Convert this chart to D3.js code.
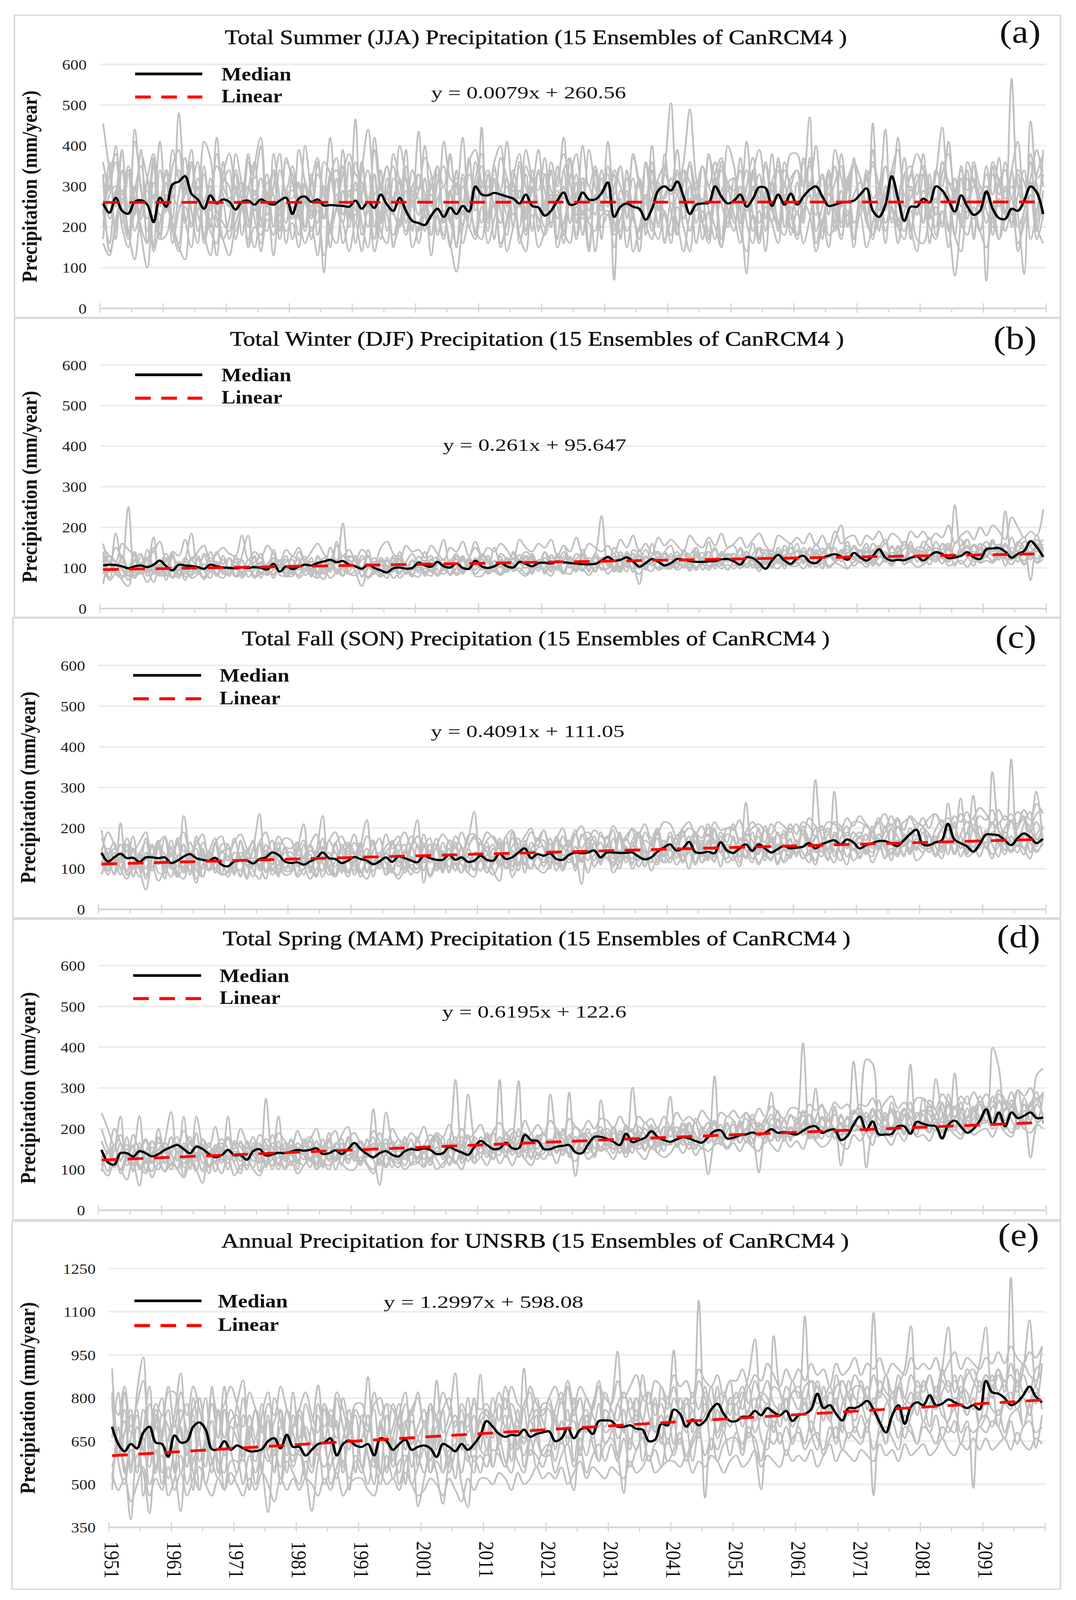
<!DOCTYPE html>
<html><head><meta charset="utf-8">
<script src="https://cdn.jsdelivr.net/npm/d3@7"></script>
<style>html,body{margin:0;padding:0;background:#fff;overflow:hidden}svg{display:block}</style>
</head><body>
<svg id="chart"></svg>
<script>
// ---------------- DATA ----------------
const years = d3.range(1951, 2101);
const xTickLabels = ["1951","1961","1971","1981","1991","2001","2011","2021","2031","2041","2051","2061","2071","2081","2091"];
const yTicksSeasonal = [0,100,200,300,400,500,600];
const yTicksAnnual = [350,500,650,800,950,1100,1250];
const panelTitles = [
 "Total Summer (JJA) Precipitation (15 Ensembles of CanRCM4 )",
 "Total Winter (DJF) Precipitation (15 Ensembles of CanRCM4 )",
 "Total Fall (SON) Precipitation (15 Ensembles of CanRCM4 )",
 "Total Spring (MAM) Precipitation (15 Ensembles of CanRCM4 )",
 "Annual Precipitation for UNSRB (15 Ensembles of CanRCM4 )"];
const panelLetters = ["(a)","(b)","(c)","(d)","(e)"];
const trendSlope = [0.0079,0.261,0.4091,0.6195,1.2997];
const trendIntercept = [260.56,95.647,111.05,122.6,598.08];
const equationLabels = ["y = 0.0079x + 260.56","y = 0.261x + 95.647","y = 0.4091x + 111.05","y = 0.6195x + 122.6","y = 1.2997x + 598.08"];
const legendLabels = ["Median","Linear"];
const yAxisTitle = "Precipitation (mm/year)";

const medianA = [258,235,272,240,233,262,266,255,212,272,250,305,312,325,282,268,245,278,258,268,262,243,262,265,255,268,260,255,265,272,232,270,275,262,268,253,254,253,252,250,265,245,262,247,280,255,240,272,240,215,210,205,228,245,225,248,232,252,238,300,280,278,284,280,275,270,258,280,252,248,228,240,265,285,255,258,285,268,268,283,310,225,250,258,250,245,218,245,290,300,290,312,275,232,255,258,260,300,275,258,265,280,250,270,298,296,252,280,255,282,255,275,292,300,275,252,255,260,262,265,280,295,240,225,255,325,270,215,250,250,270,260,300,290,265,238,278,250,230,240,288,245,222,220,245,240,265,300,285,232];
const medianB = [106,108,107,104,99,104,106,102,108,118,104,94,108,106,105,102,98,108,104,101,100,99,101,100,102,100,96,110,91,104,97,103,108,106,112,116,120,114,117,108,104,98,108,100,94,89,99,101,98,100,113,106,103,115,104,101,111,100,98,118,104,100,104,112,104,101,115,110,104,112,113,111,116,114,112,111,109,109,110,118,127,118,120,126,116,103,112,122,115,106,112,122,120,117,115,115,116,117,121,122,116,108,126,124,112,98,118,132,118,110,124,130,115,112,125,130,134,128,120,137,126,118,130,146,125,118,120,119,125,128,118,130,139,134,124,126,130,139,126,122,146,148,149,140,125,135,142,166,151,127];
const medianC = [139,118,128,137,126,127,117,128,128,126,128,114,120,130,136,126,122,120,127,110,106,118,120,120,113,124,128,140,134,118,114,116,110,118,126,140,126,124,114,120,129,124,120,111,118,128,117,130,126,120,116,132,126,122,122,134,122,128,117,120,132,122,120,137,124,128,140,150,126,136,132,138,124,122,134,140,138,140,145,128,140,140,139,139,140,130,123,128,142,152,160,145,150,166,141,139,142,138,165,145,139,150,160,144,160,150,140,148,156,150,152,154,163,150,160,166,170,160,172,165,150,158,163,168,168,162,156,170,185,196,160,158,165,170,211,172,163,155,142,160,184,184,182,170,158,175,187,178,163,174];
const medianD = [148,118,112,140,140,132,145,140,132,138,148,155,160,150,140,156,150,138,130,135,148,135,135,124,145,150,134,137,141,140,144,148,146,148,152,138,140,147,138,150,165,150,138,130,140,145,136,132,145,150,148,152,148,138,140,155,148,142,136,155,170,160,150,152,166,152,152,185,172,170,150,150,156,158,160,142,140,162,180,180,175,168,160,188,167,172,178,194,180,172,168,174,179,176,170,166,180,194,196,176,178,184,186,191,186,190,199,190,192,188,186,195,204,206,190,196,198,172,182,210,230,196,218,186,186,187,206,206,188,217,212,208,206,176,210,220,205,190,200,220,248,210,240,206,240,226,232,240,226,228];
const medianE = [700,640,615,640,625,680,700,645,640,595,670,645,650,700,715,690,622,622,650,620,635,625,615,615,622,650,660,625,672,630,630,600,620,640,645,660,600,640,652,635,630,640,600,660,650,620,640,655,620,630,635,625,595,640,630,615,640,620,640,670,720,700,675,665,672,670,690,665,675,680,684,650,660,695,660,690,695,675,720,722,720,700,700,705,693,690,650,655,710,705,760,745,700,725,705,720,760,780,745,720,720,735,735,755,740,765,750,740,755,720,740,745,760,815,765,775,745,722,765,765,775,790,760,715,680,740,775,710,770,785,775,810,775,780,795,785,775,765,775,760,860,820,815,800,775,785,810,840,805,785];

const ensembleA = [
[455,340,250,380,230,410,300,190,360,270,330,220,480,310,390,240,350,200,420,280,250,380,300,200,350,420,260,330,190,370,310,240,400,280,210,360,330,250,390,220,360,270,200,420,300,240,380,310,230,340,290,400,250,330,210,370,280,420,260,320,380,230,340,290,410,260,200,350,310,390,240,360,300,420,270,330,230,390,300,250,410,280,350,220,380,300,260,400,240,330,300,390,250,360,280,210,370,320,260,400,350,240,410,290,330,220,380,270,340,300,230,370,300,400,260,340,210,380,290,350,320,260,390,240,350,300,420,250,330,280,380,220,340,300,410,270,230,360,310,260,330,280,370,230,565,300,250,380,320,340],
[240,160,290,200,150,260,180,100,230,170,280,190,140,250,210,300,160,220,130,260,170,240,290,150,200,180,260,130,230,190,210,150,270,190,240,130,200,280,160,230,465,180,240,140,220,270,160,210,290,150,200,260,130,230,180,290,150,240,200,170,250,160,220,280,140,200,260,180,230,150,190,270,150,210,260,170,240,140,280,200,230,150,260,190,220,140,280,210,170,240,160,250,200,140,270,210,180,260,150,230,270,190,140,230,180,250,210,160,280,200,180,240,280,160,220,150,260,200,240,170,230,150,210,270,190,240,160,280,200,140,260,200,170,240,150,280,210,180,250,190,150,230,270,190,240,160,210,280,170,230],
[200,330,380,240,170,440,290,220,350,180,310,190,280,370,240,160,330,260,200,360,250,330,180,290,360,220,190,380,270,210,330,220,300,170,260,88,320,370,230,290,210,340,440,260,170,320,240,200,350,260,435,230,180,310,350,220,160,300,250,360,280,190,350,240,180,320,380,220,300,200,260,330,250,180,370,210,310,240,340,170,350,260,190,320,240,170,360,290,210,380,240,180,310,350,210,270,170,330,370,240,190,300,240,340,170,280,210,370,260,220,310,210,370,260,190,340,240,170,300,360,230,320,180,280,350,250,200,330,170,310,330,240,200,360,280,180,320,220,350,250,350,230,170,300,210,330,250,310,190,290],
[160,130,220,270,190,120,240,290,140,210,270,210,150,120,280,230,180,130,240,170,130,210,250,160,270,140,220,180,250,280,290,230,160,200,130,260,190,240,210,140,210,140,260,170,240,290,150,220,190,260,160,240,280,190,220,160,90,200,260,180,445,210,260,150,220,290,180,140,250,220,180,240,290,190,160,250,220,270,140,230,240,180,220,280,140,200,260,190,300,160,260,210,140,230,270,170,240,200,150,290,230,160,270,190,240,140,290,210,180,250,180,260,230,140,210,280,240,180,230,150,280,210,180,260,160,300,220,190,240,170,160,230,270,200,280,180,140,240,220,270,210,260,170,220,270,140,240,300,200,160],
[360,290,400,260,340,230,380,320,270,410,240,390,320,280,350,260,410,370,250,330,380,290,250,370,320,400,230,300,380,280,270,390,310,250,350,290,420,260,330,380,330,310,250,390,290,350,230,400,320,250,290,370,330,240,410,320,300,230,360,390,310,280,360,400,250,340,270,390,320,290,370,260,320,380,310,230,400,300,350,280,330,70,290,250,380,310,270,360,250,340,505,290,360,490,320,260,380,280,340,300,290,370,250,330,390,290,240,360,310,380,380,310,350,270,330,230,390,320,260,360,320,260,360,300,240,340,390,280,330,380,340,280,230,330,380,290,340,260,360,300,280,360,310,240,340,410,260,320,390,300],
[230,360,170,340,250,300,200,160,310,260,340,160,240,280,360,190,260,300,220,170,220,340,260,170,290,200,310,280,170,260,170,260,310,220,330,280,190,250,350,230,230,300,260,170,340,190,270,310,210,290,270,190,320,230,170,290,220,330,270,190,170,300,250,210,320,230,290,190,340,250,200,280,220,340,210,310,180,270,230,320,250,330,170,290,220,190,360,250,310,170,220,330,260,190,290,350,240,170,290,310,320,240,86,300,210,270,310,190,300,230,170,280,470,190,250,300,350,210,310,170,280,220,455,190,300,220,270,330,190,250,210,300,230,290,190,320,250,340,170,280,300,180,270,230,340,200,240,310,280,220],
[330,220,280,390,180,290,350,260,370,230,240,350,390,210,290,360,170,280,350,320,300,190,260,380,240,320,280,200,340,290,350,260,190,310,370,220,330,250,210,360,240,360,270,330,210,290,350,250,390,190,330,280,220,350,300,380,240,320,200,290,350,220,310,270,300,200,360,300,250,340,290,200,350,270,320,380,260,220,330,250,230,300,350,250,370,310,200,270,320,350,280,340,220,270,240,350,300,360,260,210,320,210,300,370,270,350,250,200,360,290,260,360,280,230,330,260,310,350,200,370,250,330,270,300,440,210,270,330,350,230,290,260,330,445,280,230,350,250,300,270,68,350,250,290,230,330,270,360,210,390],
[170,280,300,210,330,190,250,310,150,340,260,210,160,330,200,280,170,320,240,210,190,290,310,220,150,250,330,200,270,160,250,180,310,240,210,300,190,160,290,200,310,210,150,330,190,160,320,280,180,220,190,270,300,180,240,150,310,200,330,280,210,330,170,290,230,310,160,240,320,190,330,210,280,160,270,180,310,210,190,290,300,190,270,150,250,320,210,170,270,230,180,280,220,300,160,240,190,290,170,300,210,270,340,230,160,290,240,210,310,180,240,160,220,300,320,180,200,290,230,280,310,230,170,300,210,250,160,240,270,330,210,330,180,240,200,80,220,320,180,300,240,200,320,270,300,230,85,460,300,240],
[330,140,200,290,180,240,390,160,280,170,180,290,340,220,150,320,250,190,160,310,340,170,250,300,220,160,270,340,210,290,220,310,200,330,180,260,150,320,230,280,160,280,340,200,310,230,180,250,320,280,230,320,180,270,300,210,340,160,230,310,290,220,320,160,210,300,250,330,190,340,230,340,170,300,210,280,320,150,270,240,310,210,180,340,240,320,180,340,200,280,300,180,340,260,310,210,160,300,350,200,270,340,210,160,290,190,310,350,200,300,340,220,310,280,170,330,190,260,310,210,250,340,180,220,280,320,200,170,300,230,330,160,250,210,310,290,200,270,230,190,280,210,310,340,200,280,340,170,240,330],
[260,300,360,280,350,270,220,320,380,250,340,280,250,300,360,260,330,240,380,300,270,300,240,360,280,320,250,340,230,360,330,300,260,230,360,280,320,340,250,290,290,360,250,280,300,350,260,320,250,300,330,250,300,350,230,280,320,260,370,240,300,340,250,370,320,270,350,240,290,330,330,290,260,340,370,270,320,300,260,340,270,340,300,260,320,240,350,310,290,270,320,280,340,310,260,350,300,270,360,310,290,340,270,320,260,360,290,340,270,320,340,300,360,270,330,280,350,250,320,350,260,320,350,300,270,340,260,370,290,310,350,300,260,360,310,280,340,290,320,250,260,330,280,360,270,340,310,260,330,380]];

const ensembleB = [
[140,90,185,110,250,80,130,95,150,85,100,135,80,120,185,95,75,140,105,90,125,80,130,180,95,115,85,145,100,130,90,140,110,80,130,95,150,115,210,90,130,95,145,85,125,105,90,140,100,120,105,140,90,125,170,100,135,85,120,165,125,95,150,105,90,140,115,100,135,105,140,100,125,155,110,90,145,115,135,228,105,150,120,90,145,130,100,160,115,140,155,110,135,100,150,120,165,105,140,125,115,150,125,160,100,145,130,115,155,130,160,115,145,110,140,125,170,205,120,155,140,160,110,150,170,120,155,125,165,115,145,175,125,160,115,255,140,170,125,160,125,165,140,240,120,160,175,130,150,170],
[85,110,95,70,55,120,88,105,175,90,100,75,115,90,80,120,95,75,110,95,80,105,90,100,75,115,95,82,110,88,100,80,115,95,85,72,110,95,80,120,90,55,100,115,80,95,125,85,105,80,115,90,80,120,95,110,85,125,100,115,95,120,105,85,125,100,115,130,90,110,110,95,130,90,120,105,135,95,125,110,125,100,90,135,110,60,130,105,120,135,100,130,115,95,140,110,125,145,105,130,135,110,130,115,100,145,120,135,105,130,115,140,120,145,110,135,115,130,155,120,140,115,145,125,135,110,150,120,140,145,120,145,135,110,150,125,140,155,115,135,150,130,120,155,140,115,145,70,160,130],
[150,130,115,160,145,130,110,125,140,165,115,140,130,170,120,140,155,115,135,150,135,130,180,120,140,125,155,135,115,145,130,150,120,140,160,135,120,155,130,145,120,145,130,110,150,165,135,120,155,140,145,125,155,135,120,150,140,165,130,150,130,150,140,160,145,120,170,150,140,160,150,170,130,155,140,175,135,160,150,140,155,135,170,150,180,140,160,135,175,155,170,155,140,180,160,150,175,155,185,150,160,175,150,170,185,155,140,180,170,160,175,160,185,155,180,150,190,160,175,180,155,180,170,190,160,185,175,155,190,175,190,170,185,175,205,160,180,190,170,200,180,205,190,170,225,200,175,190,180,245],
[70,95,110,80,90,75,100,92,65,105,85,78,97,70,105,90,78,110,85,75,95,80,90,100,75,90,82,95,105,78,90,82,100,85,75,105,90,165,95,85,92,100,78,95,85,105,75,90,100,85,78,100,90,85,105,82,100,90,110,85,100,90,105,85,110,92,100,85,105,115,90,105,100,85,115,105,95,110,90,115,110,95,105,120,90,110,100,115,95,110,105,115,100,110,95,120,105,110,115,95,115,100,110,125,105,115,100,120,110,105,105,120,110,115,130,105,115,125,100,115,125,110,120,105,130,115,125,110,120,130,110,125,120,135,115,130,110,125,140,115,130,115,140,125,120,135,110,130,115,135],
[130,75,110,95,70,120,135,80,105,90,120,95,75,115,90,125,95,110,80,130,95,115,80,100,125,75,110,95,120,100,85,110,95,125,75,100,120,85,105,130,115,80,105,125,95,75,115,130,85,100,95,115,130,80,100,120,85,130,100,115,110,130,90,120,100,135,110,125,90,120,115,90,135,110,125,95,130,90,135,120,120,135,100,130,90,145,115,130,135,105,135,100,145,120,135,95,125,150,110,135,125,145,100,135,150,110,135,120,145,105,145,110,150,130,100,160,120,145,125,150,130,150,115,140,160,125,140,165,115,150,150,125,165,135,115,160,170,125,155,135,140,170,120,155,130,165,150,120,170,140],
[160,110,95,130,100,120,90,145,100,80,90,125,105,85,120,100,130,90,140,110,125,100,85,120,105,135,90,125,100,115,120,95,110,90,125,115,95,115,130,105,100,130,105,92,120,90,125,100,115,135,105,90,120,125,95,115,135,92,125,105,130,115,92,135,120,95,120,140,125,100,100,125,115,140,100,135,120,105,135,115,130,100,140,115,135,120,145,115,100,140,120,140,105,130,150,110,140,120,130,150,155,115,130,120,150,135,105,150,125,160,120,150,130,160,135,150,120,135,165,125,145,125,160,140,115,155,125,165,145,130,165,150,125,160,145,125,155,170,125,150,130,160,150,125,175,140,165,155,180,140],
[95,130,115,100,80,90,110,125,85,105,125,75,95,125,100,85,110,90,115,85,88,105,120,78,95,110,100,85,108,120,105,125,82,98,115,88,118,95,82,108,120,95,128,92,78,118,92,112,85,118,88,118,95,108,122,82,100,118,95,125,105,88,118,100,125,110,92,115,130,100,125,105,98,120,128,108,92,125,112,100,98,128,115,105,135,98,125,118,128,102,105,128,135,112,125,138,102,122,135,120,135,115,140,100,130,122,145,110,132,135,140,130,108,135,148,128,150,115,138,128,112,138,128,150,115,138,130,148,155,135,135,152,125,145,160,130,145,128,158,150,165,140,158,130,150,140,165,150,140,158],
[60,115,85,75,95,80,88,90,105,82,82,95,105,78,85,100,72,90,85,102,98,78,85,105,80,85,102,75,105,82,102,75,90,105,85,98,75,90,102,85,82,95,75,90,108,85,105,75,90,95,102,85,95,80,98,108,82,95,105,80,80,98,92,82,95,105,90,80,98,108,95,80,105,92,85,112,98,82,102,110,85,100,92,112,98,85,108,112,95,102,110,95,105,118,102,108,95,115,98,108,98,112,102,108,92,118,105,98,122,108,112,98,115,102,118,100,112,105,98,115,115,102,122,108,118,105,128,110,115,102,108,122,115,128,105,112,118,102,122,112,118,112,128,122,108,128,118,138,112,122],
[120,70,90,125,80,135,100,65,95,120,70,130,85,105,75,85,135,115,80,100,85,130,75,100,130,85,110,125,82,80,80,110,128,78,112,85,100,120,80,125,128,78,100,115,85,125,92,120,98,78,118,80,122,95,85,110,122,88,115,95,122,85,100,128,90,110,132,115,85,118,85,132,112,88,125,95,132,118,92,125,122,90,132,102,125,132,100,92,125,100,98,130,118,92,132,108,125,98,135,115,125,98,132,118,92,128,112,140,98,125,118,132,102,140,98,128,118,142,132,105,122,142,105,128,140,118,132,108,140,128,128,108,140,122,148,105,138,128,105,145,132,118,145,105,138,128,108,140,122,150],
[135,115,150,125,100,140,85,120,90,110,135,100,115,95,125,130,95,125,108,120,100,122,118,92,115,125,95,115,118,95,128,118,95,115,90,125,112,88,130,118,100,120,128,88,115,98,130,122,85,100,128,112,95,120,100,85,128,122,118,112,135,120,105,118,95,125,110,130,118,92,138,118,95,128,110,122,135,105,128,95,100,128,95,140,115,128,95,130,140,125,128,100,140,130,100,125,140,108,128,135,105,130,140,120,145,108,130,140,120,150,122,140,130,115,140,150,122,135,145,122,145,122,140,155,115,150,135,122,150,140,140,125,150,135,155,122,145,150,130,160,150,130,140,160,135,155,145,140,155,125]];

const ensembleC = [
[195,120,90,212,85,150,100,48,125,170,100,155,80,230,125,65,145,95,160,110,130,85,170,105,150,235,90,140,80,155,120,150,210,90,140,230,105,85,160,125,95,155,220,110,140,85,170,120,100,150,220,65,140,160,110,150,95,130,170,240,120,155,95,70,165,135,110,170,125,150,155,115,170,105,160,135,62,175,145,120,160,125,175,115,155,180,105,165,130,170,145,175,120,165,190,130,170,115,180,150,170,130,263,150,180,120,170,155,185,140,160,185,135,319,175,150,290,140,190,165,180,140,195,150,170,200,135,185,170,145,190,150,180,140,261,170,273,145,280,180,165,338,195,145,369,175,150,195,290,165],
[120,85,140,100,75,110,130,85,105,70,100,140,90,75,120,95,80,130,100,85,90,115,80,130,95,75,120,100,85,115,115,80,100,125,85,130,95,80,110,90,125,95,75,115,130,85,100,120,90,110,100,130,85,115,95,125,110,90,130,95,120,90,130,105,125,95,140,110,100,130,105,135,115,100,140,110,125,150,105,130,140,110,130,155,115,135,105,145,130,115,125,155,115,140,110,150,135,120,155,140,120,145,125,150,115,140,155,110,145,130,150,125,145,120,155,140,115,165,130,150,125,155,140,165,125,150,130,160,145,155,140,160,130,155,170,135,160,140,155,130,165,135,155,170,140,160,135,175,145,160],
[140,190,160,120,175,145,165,190,130,160,180,130,165,190,140,160,185,125,165,180,130,165,185,150,125,165,190,140,180,155,150,165,125,160,185,140,170,190,150,135,165,140,180,160,130,185,150,165,190,155,180,160,130,155,185,165,150,190,160,175,160,190,175,150,180,195,160,180,200,155,195,160,175,200,155,185,205,170,195,180,175,205,180,170,200,185,210,175,185,215,210,180,200,215,185,205,180,215,195,200,195,220,180,200,210,195,185,215,205,190,210,185,225,205,195,215,210,195,225,205,230,210,195,215,235,205,225,195,230,215,205,225,235,205,195,230,215,240,205,230,220,245,210,230,215,240,225,205,235,245],
[85,130,165,100,145,80,135,165,105,155,75,150,105,160,85,180,120,95,165,85,160,95,130,80,150,105,135,170,90,150,95,140,170,105,80,150,120,165,95,155,135,165,90,145,175,115,90,140,160,100,100,155,175,105,145,90,165,120,150,180,170,140,115,165,100,175,150,115,165,135,115,175,135,180,140,110,185,150,120,190,145,115,185,150,125,190,155,115,195,135,180,125,195,145,185,150,120,195,140,200,200,160,130,190,145,205,170,135,195,150,135,195,165,200,140,185,160,205,150,190,175,210,180,145,205,165,220,180,150,210,205,160,195,220,170,205,150,190,225,165,185,215,160,200,220,165,210,240,170,200],
[145,105,115,160,125,180,100,125,160,110,175,110,160,120,140,95,165,130,90,145,120,175,130,145,105,165,125,95,145,175,170,105,130,155,120,95,170,140,115,160,105,145,130,170,110,155,165,105,140,180,155,115,140,95,165,125,180,150,105,140,140,165,110,175,130,155,175,110,150,170,195,145,170,155,135,185,150,175,140,165,125,175,135,180,195,140,170,160,190,130,150,180,190,140,170,150,200,170,140,185,175,150,185,170,135,195,165,185,150,200,165,185,155,175,205,145,180,195,155,175,190,170,205,155,190,210,180,155,200,180,200,185,160,200,210,160,185,215,195,175,180,210,195,175,215,205,230,190,215,175],
[175,135,85,130,160,120,80,140,95,150,135,100,175,90,125,150,80,140,175,115,150,115,85,140,165,95,130,170,120,85,90,165,115,135,80,155,125,105,150,165,140,90,130,165,115,100,160,140,90,125,115,160,115,150,90,165,125,150,115,100,165,115,150,120,180,105,150,130,100,175,150,100,180,125,155,195,115,150,180,125,155,195,115,175,145,120,190,160,115,170,125,160,195,145,180,115,160,200,140,125,180,115,170,140,200,130,180,150,120,175,130,205,170,140,165,200,130,175,205,145,165,135,190,215,150,135,205,170,135,210,205,140,170,195,135,215,150,190,140,205,150,180,215,170,145,200,220,140,185,205],
[110,150,125,85,160,80,140,100,155,90,90,135,120,95,165,125,100,145,90,160,160,90,140,110,80,160,95,110,150,95,130,85,160,95,145,115,85,120,140,95,115,160,95,115,140,85,130,160,120,85,160,95,145,120,130,95,115,90,150,120,95,135,160,110,130,145,95,160,130,100,135,160,110,150,165,95,145,120,165,110,180,140,100,150,110,180,140,125,110,160,150,110,135,180,115,160,185,130,170,115,130,175,145,115,165,140,120,190,155,125,170,140,115,180,155,120,190,140,175,120,140,185,150,175,125,200,150,185,140,175,150,185,135,170,195,140,180,135,200,150,195,160,130,190,165,140,180,195,155,205],
[90,115,150,130,95,145,105,125,95,150,110,80,130,145,95,110,150,100,125,85,95,140,125,75,120,110,145,85,110,140,140,115,85,145,125,80,125,140,90,145,85,120,150,80,140,115,95,85,145,100,90,125,160,95,115,135,95,155,90,140,135,90,120,160,100,120,155,90,145,135,115,140,95,135,115,155,120,165,105,130,125,105,145,130,165,105,130,145,175,115,160,140,120,150,135,170,125,155,140,150,135,150,175,125,140,155,175,115,155,170,140,155,175,145,130,170,145,120,175,145,180,145,130,185,160,140,170,130,190,150,165,140,180,150,165,175,130,160,165,175,150,190,165,135,180,155,185,165,140,170],
[110,95,120,135,85,100,125,75,135,115,120,105,80,105,130,75,110,140,100,120,80,105,95,125,115,105,75,130,100,105,105,135,110,75,100,120,140,85,105,80,125,80,115,95,110,140,100,75,100,130,110,125,80,110,140,105,125,110,90,80,125,105,85,115,140,80,110,135,125,100,90,110,140,95,125,105,140,90,135,115,140,90,115,150,100,125,145,95,125,135,115,150,140,100,165,115,130,150,105,160,135,105,160,150,110,135,125,160,115,135,170,125,135,110,160,125,165,140,110,170,130,155,115,145,170,120,165,135,170,120,135,180,155,125,165,140,180,130,140,170,155,125,175,160,140,170,150,125,175,160],
[150,95,130,115,160,145,105,175,125,165,115,170,130,160,110,170,135,95,115,140,150,110,165,135,170,100,160,110,165,95,95,165,115,160,135,175,100,160,180,150,185,135,120,170,100,140,160,180,100,160,110,185,135,175,100,170,155,120,180,185,130,170,180,150,115,190,115,155,190,170,170,125,180,150,170,135,180,190,165,120,180,135,190,125,170,190,125,165,200,150,190,160,180,200,190,175,210,160,190,165,210,170,190,215,195,165,210,185,175,210,185,215,205,180,205,190,215,205,180,215,215,205,195,225,200,230,200,215,225,200,225,200,235,215,225,200,235,215,225,250,235,210,245,220,235,210,245,220,260,235]];

const ensembleD = [
[239,200,160,230,110,140,231,95,155,115,170,241,120,230,100,230,150,90,160,115,230,120,170,100,155,115,274,130,230,120,160,100,175,125,155,110,170,130,185,205,125,170,135,248,115,240,160,125,175,135,155,110,170,185,125,160,320,130,284,170,130,185,145,320,140,175,317,145,130,180,150,284,175,135,289,145,185,160,135,270,175,140,195,150,301,180,145,200,155,185,279,160,200,165,150,205,170,329,160,195,210,165,200,155,205,220,289,170,205,175,210,410,180,298,190,225,175,235,190,365,230,370,360,185,225,195,245,190,358,200,235,190,322,240,195,336,210,250,200,230,240,399,348,205,255,210,260,220,332,348],
[110,145,125,100,135,115,60,140,120,100,130,110,145,115,135,100,67,140,120,150,115,135,100,145,120,140,110,135,115,150,135,115,150,125,110,145,135,120,140,115,145,120,140,125,62,140,150,130,110,145,130,155,120,145,135,115,150,160,135,130,160,140,125,165,145,155,130,165,160,140,150,170,140,165,155,84,170,150,175,155,170,150,175,145,180,160,170,150,175,165,160,185,170,150,180,165,88,170,190,175,185,165,190,175,93,180,195,170,190,180,185,200,175,190,205,180,200,110,190,205,205,105,195,210,185,205,215,190,210,200,205,190,215,195,220,205,185,220,205,215,220,200,225,210,190,225,215,129,210,225],
[170,140,200,165,125,185,150,175,135,200,140,180,150,195,165,140,175,155,205,145,175,150,200,165,145,185,165,140,190,170,150,195,165,175,200,155,175,195,150,175,190,165,155,195,170,150,200,175,165,190,175,205,165,190,180,210,170,200,175,190,210,175,195,215,190,200,180,220,190,210,190,220,200,185,225,205,195,220,200,225,220,200,230,205,195,230,215,225,200,230,205,240,220,230,215,245,225,210,240,230,245,225,240,220,250,230,255,240,225,250,250,230,260,245,255,235,265,250,260,235,260,255,275,245,265,280,250,265,245,275,275,260,250,285,265,250,280,260,290,265,285,265,295,270,260,295,280,300,270,290],
[95,140,120,165,130,155,110,90,140,165,150,100,140,85,170,130,100,165,115,140,100,165,130,110,165,95,150,130,100,150,170,125,110,155,115,175,125,155,110,180,135,110,175,125,160,110,145,175,125,155,125,160,110,155,135,175,115,160,185,130,155,130,190,145,175,135,165,145,190,135,140,175,145,200,130,180,150,140,190,145,160,200,140,180,200,150,170,210,140,175,205,155,180,215,160,190,215,160,195,175,175,220,180,165,215,190,170,225,180,205,190,215,235,175,195,220,200,185,230,195,205,190,230,245,195,180,220,250,195,230,245,215,195,230,255,205,240,200,250,215,215,255,230,200,260,235,210,265,230,220],
[135,95,160,120,180,95,150,115,170,130,95,155,180,105,125,160,135,105,150,175,150,115,90,170,135,120,160,100,155,130,110,155,135,105,170,120,100,160,175,125,155,170,115,100,145,175,120,105,160,135,180,125,155,125,105,145,180,115,145,160,140,180,125,160,130,170,140,180,125,175,190,145,170,150,185,140,170,200,150,190,150,190,165,140,175,195,150,180,205,160,165,185,215,190,155,175,200,220,180,155,180,210,165,215,195,165,210,180,225,170,225,185,210,195,175,235,190,215,185,220,195,230,205,180,240,195,215,235,185,240,210,245,220,190,230,255,200,230,245,205,255,210,235,265,220,200,245,220,260,235],
[200,150,105,145,160,115,140,170,120,150,165,140,100,150,180,120,160,110,140,155,140,170,155,130,105,150,120,185,140,105,155,115,165,180,140,105,155,120,145,170,120,155,130,165,110,140,165,125,180,110,170,145,165,135,180,110,145,170,120,155,130,170,155,180,145,190,130,170,160,185,155,175,140,195,165,180,150,190,175,145,190,150,195,175,140,205,185,155,195,175,205,190,160,210,185,150,200,215,175,215,170,205,225,185,210,195,170,220,185,235,210,245,180,225,260,190,235,210,180,240,250,215,185,270,220,245,205,230,265,210,210,270,245,215,285,225,265,210,225,280,240,210,285,260,240,295,220,260,290,215],
[145,115,145,185,130,100,165,125,95,180,115,180,140,155,105,190,115,145,95,150,180,130,165,150,180,125,175,155,110,165,115,165,145,120,170,145,190,100,135,150,145,120,170,155,190,145,105,160,145,115,115,155,185,170,140,155,165,125,180,115,180,150,125,180,160,150,200,125,170,150,190,155,200,135,175,205,180,150,180,205,160,205,175,210,160,185,165,205,175,145,200,170,210,185,215,165,190,210,160,230,220,180,240,205,180,225,195,245,170,200,190,240,205,180,225,200,255,175,230,195,200,240,205,245,190,265,220,185,245,205,275,205,235,260,220,195,245,280,210,260,215,280,225,250,290,235,200,260,215,285],
[105,85,115,100,75,125,105,120,80,115,95,115,100,80,120,135,95,110,115,90,135,85,110,125,100,85,115,110,130,100,120,90,110,130,100,115,110,130,115,100,100,130,110,90,125,105,130,120,100,115,120,105,130,100,115,130,120,100,135,115,130,110,145,115,135,110,140,125,110,140,125,145,115,150,135,120,150,125,140,150,145,125,155,130,160,140,125,155,140,130,140,160,140,165,135,155,145,160,165,150,165,145,170,155,145,180,160,145,175,155,170,150,185,170,155,165,190,165,150,185,170,190,160,200,180,160,190,170,200,180,185,170,200,180,200,185,175,205,185,195,200,180,210,190,180,215,200,190,210,200],
[170,140,160,90,125,160,100,145,170,135,155,120,105,165,130,95,175,130,160,125,115,160,135,100,150,165,105,165,155,130,175,145,125,170,100,155,170,125,165,115,165,115,145,180,125,165,125,115,135,175,115,140,125,185,160,135,115,155,135,180,160,190,145,135,190,165,140,175,145,125,165,135,190,175,140,165,190,180,130,190,200,170,140,200,190,165,215,190,165,205,180,205,175,160,225,200,165,185,210,175,220,185,200,235,185,210,235,200,220,180,200,210,235,215,190,220,190,230,205,245,225,190,245,210,230,240,195,250,220,185,245,235,205,265,195,250,225,190,245,265,235,255,270,220,255,205,275,240,260,290],
[150,115,160,125,150,110,155,140,115,150,115,140,165,125,150,135,155,130,145,165,125,145,120,155,135,160,115,125,170,120,140,120,155,170,130,150,120,165,150,135,155,170,140,125,165,150,170,145,165,140,170,140,160,180,135,160,145,180,150,165,155,180,140,165,185,145,170,190,150,180,185,160,190,145,185,165,190,160,180,195,175,160,185,200,155,180,200,175,160,205,200,175,195,215,170,190,215,190,170,210,185,215,185,225,205,180,225,205,185,230,225,200,235,205,230,200,245,210,225,205,240,215,250,225,205,250,220,245,230,210,215,255,225,205,260,230,250,225,255,230,250,225,265,245,270,230,260,245,275,280]];

const ensembleE = [
[903,640,760,560,820,941,600,720,800,620,740,886,600,800,660,560,840,660,760,620,780,861,620,580,740,820,640,560,760,680,600,780,720,844,640,560,800,700,620,760,720,873,620,700,780,580,740,820,640,700,760,620,861,680,740,886,620,800,660,882,660,800,720,840,740,620,903,720,760,680,800,720,640,840,740,800,680,760,860,720,780,962,680,800,720,880,740,680,840,760,966,740,800,680,1138,740,840,720,800,860,740,800,880,1004,760,700,1016,820,760,860,800,1084,760,860,780,720,880,800,740,840,840,760,1096,800,880,740,840,900,1050,800,860,800,760,900,1046,820,880,780,840,920,1046,800,880,840,1218,820,900,1071,840,979],
[520,640,560,378,600,540,399,620,500,660,560,407,640,540,480,660,580,520,620,500,540,600,480,660,560,403,620,520,660,560,620,540,407,580,660,500,560,640,480,600,560,500,620,540,560,660,500,580,620,424,520,620,540,432,580,640,500,420,600,540,620,560,660,580,540,640,600,660,560,620,640,580,660,560,479,660,600,680,580,640,660,600,470,660,620,680,580,640,660,580,620,680,600,660,700,453,660,620,680,600,680,640,700,620,483,680,720,640,700,640,700,640,720,660,620,700,640,720,660,700,660,720,462,700,640,720,660,740,700,640,720,680,740,660,720,760,680,720,487,720,740,700,760,680,740,760,700,780,626,740],
[800,600,680,760,620,760,660,540,740,700,620,720,780,580,680,800,620,740,660,760,700,600,740,660,780,620,720,760,640,580,740,660,620,780,700,740,600,660,760,640,660,740,580,720,640,700,780,620,720,660,620,760,720,640,700,740,660,740,620,720,740,660,780,700,780,720,660,740,800,720,680,760,820,720,760,680,800,740,700,820,760,720,820,740,680,800,820,740,780,700,800,740,700,820,760,840,720,800,820,740,820,760,840,720,800,860,780,760,840,800,760,840,860,780,800,760,840,860,800,760,860,800,780,860,820,800,880,800,780,860,820,880,800,860,820,880,800,900,860,820,880,860,900,820,920,860,880,820,900,920],
[480,700,540,660,760,460,640,740,540,660,720,540,660,740,480,640,720,540,760,620,540,740,660,500,620,720,540,660,600,740,640,520,700,600,760,640,520,660,720,540,740,600,500,700,540,660,740,500,660,600,540,660,740,540,620,520,720,600,540,740,760,560,660,740,620,760,560,660,740,600,600,740,660,760,580,720,760,640,580,760,720,600,760,640,760,580,680,780,640,740,640,800,720,580,700,780,620,760,680,800,700,620,760,800,660,620,760,700,800,640,720,800,680,620,840,740,660,780,820,680,740,680,800,720,640,820,760,660,740,820,780,700,840,780,700,680,820,740,800,700,740,840,700,780,760,860,700,780,840,760],
[660,820,600,740,540,680,840,560,680,760,540,760,680,480,800,660,540,760,600,720,740,600,680,760,540,740,600,760,540,700,760,680,560,740,640,760,700,540,680,740,560,680,760,540,740,620,540,700,760,560,720,540,660,760,540,620,760,680,740,620,600,740,620,560,720,640,760,600,680,760,760,620,720,640,800,620,740,680,780,640,680,780,700,620,800,720,680,800,660,800,720,640,780,760,660,820,780,660,720,780,780,820,660,760,820,800,680,780,720,820,820,740,780,840,720,820,780,680,860,800,780,840,740,820,800,740,840,780,820,740,860,800,760,820,860,760,840,820,760,860,780,880,820,860,780,900,820,840,780,920],
[780,600,820,680,740,620,780,700,660,820,820,680,600,760,800,660,780,660,840,700,700,800,660,760,700,620,800,720,640,820,660,780,700,620,780,720,660,800,700,640,720,680,780,800,660,780,700,620,760,800,700,780,620,760,800,660,720,700,800,620,760,720,660,800,720,700,780,820,660,780,780,720,800,660,760,800,700,780,840,680,700,780,820,760,800,720,820,680,800,780,840,760,800,780,860,800,720,840,700,800,800,840,780,860,800,780,840,820,760,820,840,780,860,840,800,840,780,860,820,880,840,800,880,820,880,820,840,800,880,840,840,880,820,900,840,860,820,880,900,840,880,840,900,860,880,840,920,880,860,900],
[560,640,720,540,700,620,560,760,660,520,620,700,560,720,580,660,720,580,540,700,660,580,700,620,700,600,560,700,640,600,620,700,640,600,560,620,720,560,700,640,720,600,560,700,660,560,640,720,560,660,700,580,700,640,560,720,660,580,660,720,620,720,640,700,580,700,640,720,660,600,640,740,660,700,720,600,720,660,720,700,760,660,700,720,740,660,720,700,740,640,720,740,680,760,700,740,760,680,740,700,780,700,760,680,740,780,700,760,800,700,740,780,680,760,780,720,800,700,760,720,780,720,760,700,780,800,720,780,740,800,720,780,800,740,720,800,780,740,800,720,800,760,740,800,820,760,800,740,820,780],
[820,580,500,620,560,660,500,560,600,460,520,600,500,580,640,500,580,620,480,580,580,500,600,540,620,580,660,500,580,540,500,580,540,640,500,560,600,580,520,580,540,640,580,500,600,520,580,600,500,560,620,540,580,540,600,620,540,640,580,600,560,620,600,560,640,580,540,620,600,560,620,540,600,640,560,620,540,600,640,580,640,580,660,560,620,660,580,620,560,660,600,660,580,640,680,600,660,580,640,660,660,600,680,660,580,660,640,680,600,660,680,620,660,680,600,660,700,620,680,660,640,700,620,680,700,660,620,700,680,640,700,680,640,700,680,720,640,700,680,700,680,720,700,660,720,640,700,720,680,700],
[800,740,840,700,780,860,680,780,740,840,700,820,740,840,760,680,820,740,780,840,780,700,820,760,680,780,740,840,760,700,760,820,740,680,780,700,820,760,680,780,780,700,820,740,780,760,700,780,740,820,700,780,740,820,760,700,780,740,780,760,780,740,820,760,840,780,760,840,780,740,800,840,780,860,780,840,800,760,840,800,780,860,800,840,880,800,780,860,840,800,880,840,860,800,900,860,840,880,800,860,860,900,840,880,860,920,880,840,900,860,900,860,920,880,900,840,920,880,900,940,880,920,900,940,880,920,900,880,940,900,920,900,940,880,920,960,900,940,920,900,940,920,960,920,980,940,920,960,940,980],
[540,480,520,440,500,560,460,520,480,560,480,540,460,520,560,500,460,520,480,540,500,460,520,480,540,500,440,520,480,520,480,520,500,460,520,480,540,460,500,520,520,480,460,540,500,520,480,540,500,460,480,520,500,460,520,480,440,520,480,520,520,500,540,520,480,540,500,520,560,520,540,520,560,500,540,580,520,560,540,520,560,540,520,580,540,560,600,540,560,580,580,560,600,540,580,560,600,580,540,580,600,560,580,620,560,600,580,560,620,580,600,580,620,560,600,640,580,620,600,580,620,600,580,640,600,620,580,640,600,620,640,600,620,660,620,600,640,620,660,620,660,620,640,660,620,680,640,620,660,640]];

// ---------------- LAYOUT ----------------
// Design space is the reference's 2755 x 4717; the SVG is fitted to the actual viewport.
const FONT = "'Liberation Serif','DejaVu Serif',serif";
const VW = 2755, VH = 4717;
const medians = [medianA, medianB, medianC, medianD, medianE];
const ensembles = [ensembleA, ensembleB, ensembleC, ensembleD, ensembleE];
const layouts = [
 {box:[37,45,2715,936],  px:[256,2679], py:[909,190],  tx:1372, tb:130,  tw:1593, leg:[346,518,567,218,286], eq:[1104,290,499],  lab:[2612,125],  yt:94, yTicks:yTicksSeasonal},
 {box:[37,938,2715,1820], px:[256,2679], py:[1794,1076], tx:1375, tb:1019, tw:1572, leg:[346,518,567,1105,1174], eq:[1134,1329,470], lab:[2599,1028], yt:94, yTicks:yTicksSeasonal},
 {box:[33,1822,2715,2706], px:[252,2678], py:[2681,1962], tx:1372, tb:1903, tw:1505, leg:[341,515,562,1991,2060], eq:[1103,2173,496], lab:[2601,1909], yt:90, yTicks:yTicksSeasonal},
 {box:[33,2710,2715,3596], px:[252,2679], py:[3568,2847], tx:1374, tb:2787, tw:1607, leg:[341,515,562,2876,2944], eq:[1132,3000,472], lab:[2608,2793], yt:90, yTicks:yTicksSeasonal},
 {box:[31,3600,2715,4685], px:[279,2676], py:[4503,3740], tx:1370, tb:3678, tw:1607, leg:[344,516,558,3835,3908], eq:[982,3856,512],  lab:[2608,3672], yt:89, yTicks:yTicksAnnual}
];

const W = window.innerWidth || VW, H = window.innerHeight || VH;
const svg = d3.select("#chart").attr("width", W).attr("height", H)
  .attr("viewBox", `0 0 ${VW} ${VH}`).attr("preserveAspectRatio", "none");
svg.append("rect").attr("width",VW).attr("height",VH).attr("fill","#fff");

layouts.forEach((L, i) => {
  const g = svg.append("g");
  const yDom = d3.extent(L.yTicks);
  const x = d3.scaleLinear().domain([1950.5, 2100.5]).range(L.px);
  const y = d3.scaleLinear().domain(yDom).range(L.py);

  g.append("rect").attr("x",L.box[0]).attr("y",L.box[1]).attr("width",L.box[2]-L.box[0]).attr("height",L.box[3]-L.box[1])
    .attr("fill","none").attr("stroke","#d9d9d9").attr("stroke-width",4);

  g.append("g").selectAll("line").data(L.yTicks.slice(1)).join("line")
    .attr("x1",L.px[0]).attr("x2",L.px[1]).attr("y1",d=>y(d)).attr("y2",d=>y(d))
    .attr("stroke","#ececec").attr("stroke-width",5);

  const yAxis = d3.axisLeft(y).tickValues(L.yTicks).tickFormat(d3.format("d")).tickSize(0).tickPadding(34);
  const ya = g.append("g").attr("transform",`translate(${L.px[0]},0)`).call(yAxis);
  ya.select(".domain").remove();
  ya.selectAll("text").attr("font-family",FONT).attr("font-size",42).attr("fill","#222").attr("dy","0.35em");

  const y0 = L.py[0];
  g.append("line").attr("x1",L.px[0]).attr("x2",L.px[1]).attr("y1",y0).attr("y2",y0).attr("stroke","#d4d4d4").attr("stroke-width",5);
  const majors = d3.range(1950.5, 2101, 10), minors = d3.range(1955.5, 2101, 10);
  g.append("g").selectAll("line").data(majors).join("line")
    .attr("x1",d=>x(d)).attr("x2",d=>x(d)).attr("y1",y0-15).attr("y2",y0+13).attr("stroke","#d4d4d4").attr("stroke-width",3);
  g.append("g").selectAll("line").data(minors).join("line")
    .attr("x1",d=>x(d)).attr("x2",d=>x(d)).attr("y1",y0).attr("y2",y0+12).attr("stroke","#d4d4d4").attr("stroke-width",3);

  const line = d3.line().x((d,k)=>x(years[k])).y(d=>y(d)).curve(d3.curveCatmullRom.alpha(0.5));
  const clipId = "clip"+i;
  svg.append("clipPath").attr("id",clipId).append("rect").attr("x",L.px[0]).attr("y",L.py[1]-200).attr("width",L.px[1]-L.px[0]).attr("height",L.py[0]-L.py[1]+200);
  const lines = g.append("g").attr("clip-path",`url(#${clipId})`);
  ensembles[i].forEach(s => lines.append("path").attr("d",line(s)).attr("fill","none").attr("stroke","#c0c0c0").attr("stroke-width",4.5));
  lines.append("path").attr("d",line(medians[i])).attr("fill","none").attr("stroke","#000").attr("stroke-width",6.5);
  const tr = [1,150].map(t => ({yr: years[t-1], v: trendIntercept[i] + trendSlope[i]*t}));
  lines.append("line").attr("x1",x(tr[0].yr)).attr("x2",x(tr[1].yr)).attr("y1",y(tr[0].v)).attr("y2",y(tr[1].v))
    .attr("stroke","#ff0000").attr("stroke-width",8).attr("stroke-dasharray","40,27");

  g.append("text").attr("x",L.tx).attr("y",L.tb).attr("text-anchor","middle").attr("font-family",FONT).attr("font-size",61)
    .attr("fill","#111").attr("stroke","#111").attr("stroke-width",0.8)
    .attr("textLength",L.tw).attr("lengthAdjust","spacingAndGlyphs").text(panelTitles[i]);
  g.append("text").attr("x",L.lab[0]).attr("y",L.lab[1]).attr("text-anchor","middle").attr("font-family",FONT).attr("font-size",95)
    .attr("fill","#111").text(panelLetters[i]);
  const [lx1,lx2,ltx,ly1,ly2] = L.leg;
  g.append("line").attr("x1",lx1).attr("x2",lx2).attr("y1",ly1).attr("y2",ly1).attr("stroke","#000").attr("stroke-width",8);
  g.append("line").attr("x1",lx1).attr("x2",lx2).attr("y1",ly2).attr("y2",ly2).attr("stroke","#ff0000").attr("stroke-width",9).attr("stroke-dasharray","40,27");
  g.append("text").attr("x",ltx).attr("y",ly1+19).attr("font-family",FONT).attr("font-weight","bold").attr("font-size",55)
    .attr("fill","#111").attr("textLength",179).attr("lengthAdjust","spacingAndGlyphs").text(legendLabels[0]);
  g.append("text").attr("x",ltx).attr("y",ly2+16).attr("font-family",FONT).attr("font-weight","bold").attr("font-size",55)
    .attr("fill","#111").attr("textLength",156).attr("lengthAdjust","spacingAndGlyphs").text(legendLabels[1]);
  g.append("text").attr("x",L.eq[0]).attr("y",L.eq[1]).attr("font-family",FONT).attr("font-size",52)
    .attr("fill","#111").attr("textLength",L.eq[2]).attr("lengthAdjust","spacingAndGlyphs").text(equationLabels[i]);
  const cy = (L.py[0]+L.py[1])/2;
  g.append("text").attr("transform",`translate(${L.yt},${cy}) rotate(-90)`).attr("text-anchor","middle")
    .attr("font-family",FONT).attr("font-weight","bold").attr("font-size",55).attr("fill","#111").text(yAxisTitle);

  if (i === layouts.length-1) {
    g.append("g").selectAll("text").data(xTickLabels).join("text")
      .attr("transform",d=>`translate(${x(+d)},${y0+41}) rotate(90)`).attr("dy","0.35em")
      .attr("font-family",FONT).attr("font-size",55).attr("fill","#111").text(d=>d);
  }
});
</script>
</body></html>
